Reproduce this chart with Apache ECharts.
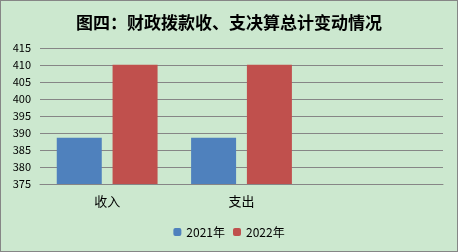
<!DOCTYPE html>
<html><head><meta charset="utf-8">
<script src="https://cdn.jsdelivr.net/npm/echarts@6/dist/echarts.min.js"></script>
<style>html,body{margin:0;padding:0;background:#fff}#c{width:458px;height:252px;box-sizing:border-box;border:1px solid #868686;background:#CCE8CF}</style>
</head><body><div id="c"></div>
<script>
const title = '图四：财政拨款收、支决算总计变动情况';
const categories = ['收入', '支出', ''];
const seriesNames = ['2021年', '2022年'];
const values2021 = [388.6, 388.6, null];
const values2022 = [410.1, 410.1, null];
const yTicks = [375, 380, 385, 390, 395, 400, 405, 410, 415];

const chart = echarts.init(document.getElementById('c'), null, {renderer: 'canvas'});
const font = '"Noto Sans CJK SC", "Noto Sans", sans-serif';
chart.setOption({
  backgroundColor: '#CCE8CF',
  animation: false,
  title: {
    text: title, left: 'center', top: 8,
    textStyle: {fontFamily: font, fontSize: 17, fontWeight: 'bold', color: '#000'}
  },
  legend: {
    data: seriesNames, bottom: 8, left: 'center',
    itemWidth: 8, itemHeight: 8, itemGap: 8,
    textStyle: {fontFamily: font, fontSize: 12, color: '#000'}
  },
  grid: {left: 39, right: 14, top: 47, bottom: 67, containLabel: false},
  xAxis: {
    type: 'category', data: categories,
    axisLine: {show: true, lineStyle: {color: '#868686', width: 1}},
    axisTick: {show: false},
    axisLabel: {fontFamily: font, fontSize: 13, color: '#000', margin: 11}
  },
  yAxis: {
    type: 'value', min: yTicks[0], max: yTicks[yTicks.length - 1], interval: 5,
    axisLine: {show: false}, axisTick: {show: false},
    axisLabel: {fontFamily: font, fontSize: 11, color: '#000', margin: 9},
    splitLine: {lineStyle: {color: '#868686', width: 1}}
  },
  series: [
    {name: seriesNames[0], type: 'bar', data: values2021, barWidth: 45, barGap: '24%',
     itemStyle: {color: '#4F81BD'}},
    {name: seriesNames[1], type: 'bar', data: values2022, barWidth: 45,
     itemStyle: {color: '#C0504D'}}
  ]
});
</script></body></html>
